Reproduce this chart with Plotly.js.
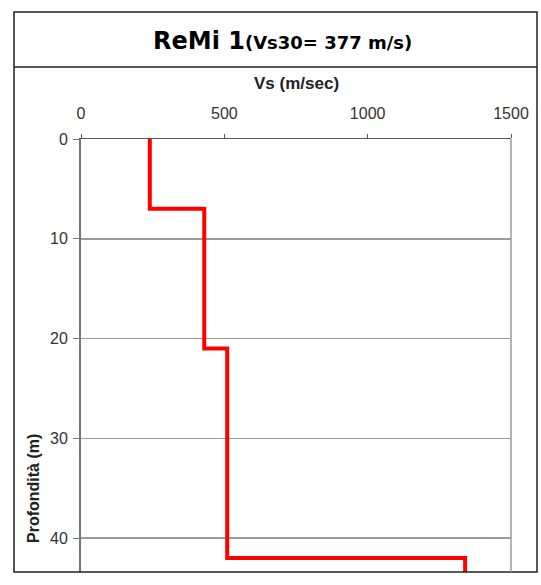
<!DOCTYPE html>
<html>
<head>
<meta charset="utf-8">
<script src="https://cdn.plot.ly/plotly-3.0.1.min.js"></script>
<style>
  html, body { margin: 0; padding: 0; background: #fff; }
  #chart { width: 541px; height: 585px; }
</style>
</head>
<body>
<div id="chart"></div>
<script>
// Shear-wave velocity profile (ReMi 1): one velocity per layer
const layerVs = [240, 430, 510, 1340];       // m/s
const layerBottom = [7, 21, 42, 50];         // m, depth of each layer base
const xTicks = [0, 500, 1000, 1500];
const yTicks = [0, 10, 20, 30, 40];
const titleMain = 'ReMi 1';
const titleSub = '(Vs30= 377 m/s)';
const xTitle = 'Vs (m/sec)';
const yTitle = 'Profondità (m)';

// Build the stepped profile from the layer table
const xs = [], ys = [];
let layerTop = 0;
layerVs.forEach((v, i) => {
  xs.push(v, v);
  ys.push(layerTop, layerBottom[i]);
  layerTop = layerBottom[i];
});

// Plot area in pixels: x 81..511, y 139..572
const W = 541, H = 585;
const L = 81, R = 511, T = 139, B = 572;
const px = x => (x - L) / (R - L);
const py = y => (B - y) / (B - T);

const trace = {
  x: xs, y: ys, type: 'scatter', mode: 'lines',
  line: { color: '#ff0000', width: 4 },
  hoverinfo: 'x+y'
};

const tickFont = { family: 'Liberation Sans, Arial, sans-serif', size: 16, color: '#333' };

const layout = {
  width: W, height: H,
  margin: { l: L, r: W - R, t: T, b: H - B, pad: 0 },
  paper_bgcolor: '#fff', plot_bgcolor: '#fff',
  showlegend: false,
  xaxis: {
    side: 'top', range: [0, 1500], tickvals: xTicks,
    showgrid: false, zeroline: false,
    showline: true, linecolor: '#555', linewidth: 1.5,
    ticks: 'outside', ticklen: 4, tickcolor: '#555', tickwidth: 1,
    ticklabelstandoff: 8,
    tickfont: tickFont
  },
  yaxis: {
    range: [43.4, 0], tickvals: yTicks,
    showgrid: true, gridcolor: '#9a9a9a', gridwidth: 1.5,
    zeroline: false,
    showline: true, linecolor: '#777', linewidth: 2,
    ticks: 'outside', ticklen: 6, tickcolor: '#777', tickwidth: 1,
    ticklabelstandoff: 2,
    tickfont: tickFont
  },
  shapes: [
    // outer frame
    { type: 'rect', xref: 'paper', yref: 'paper',
      x0: px(14), x1: px(537), y0: py(572), y1: py(12),
      line: { color: '#222', width: 1.5 }, fillcolor: 'rgba(0,0,0,0)', layer: 'above' },
    // separator under the title
    { type: 'line', xref: 'paper', yref: 'paper',
      x0: px(14), x1: px(537), y0: py(67), y1: py(67),
      line: { color: '#222', width: 1.5 } },
    // right border of the plot area
    { type: 'line', xref: 'paper', yref: 'paper',
      x0: 1, x1: 1, y0: 0, y1: 1,
      line: { color: '#9a9a9a', width: 1.5 } }
  ],
  annotations: [
    { xref: 'paper', yref: 'paper', x: px(282.5), y: py(41),
      xanchor: 'center', yanchor: 'middle', showarrow: false,
      text: '<b>' + titleMain + '</b><b><span style="font-size:18px">' + titleSub + '</span></b>',
      font: { family: 'DejaVu Sans, Verdana, sans-serif', size: 24, color: '#000' } },
    { xref: 'paper', yref: 'paper', x: 0.5, y: py(83),
      xanchor: 'center', yanchor: 'middle', showarrow: false,
      text: '<b>' + xTitle + '</b>',
      font: { family: 'Liberation Sans, Arial, sans-serif', size: 17, color: '#222' } },
    { xref: 'paper', yref: 'paper', x: px(33), y: py(489),
      xanchor: 'center', yanchor: 'middle', showarrow: false, textangle: -90,
      text: '<b>' + yTitle + '</b>',
      font: { family: 'Liberation Sans, Arial, sans-serif', size: 16, color: '#222' } }
  ]
};

Plotly.newPlot('chart', [trace], layout, { displayModeBar: false, staticPlot: true });
</script>
</body>
</html>
